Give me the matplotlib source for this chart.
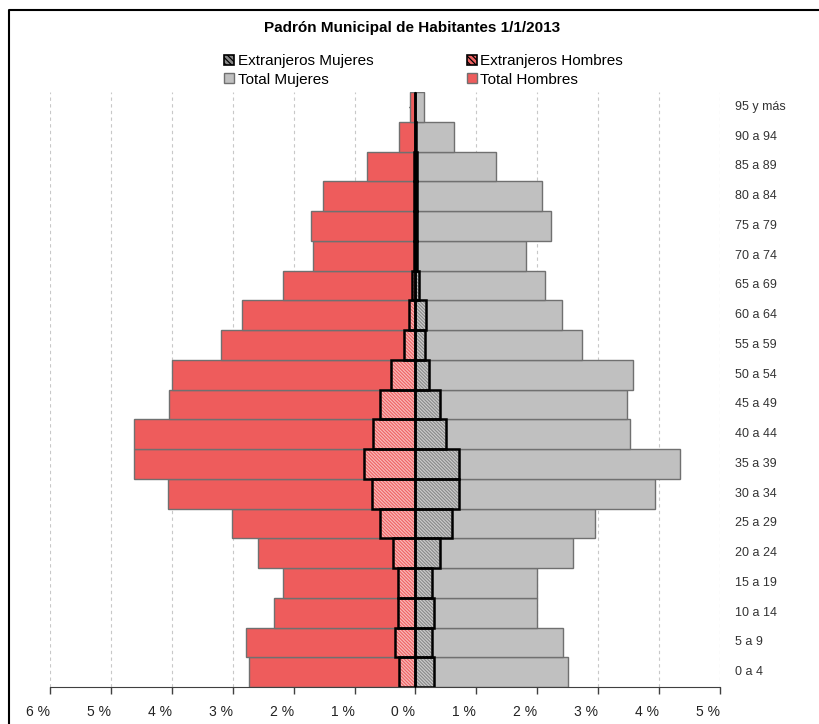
import matplotlib
matplotlib.use("Agg")
import matplotlib.pyplot as plt
from matplotlib.patches import Patch
from matplotlib.lines import Line2D

plt.rcParams['font.family'] = ['Liberation Sans', 'DejaVu Sans']
plt.rcParams['hatch.linewidth'] = 0.9

# Data (% of total population), from youngest to oldest
grupos = ["0 a 4", "5 a 9", "10 a 14", "15 a 19", "20 a 24", "25 a 29", "30 a 34",
          "35 a 39", "40 a 44", "45 a 49", "50 a 54", "55 a 59", "60 a 64", "65 a 69",
          "70 a 74", "75 a 79", "80 a 84", "85 a 89", "90 a 94", "95 y más"]
total_hombres = [2.74, 2.79, 2.33, 2.17, 2.58, 3.02, 4.06, 4.62, 4.62, 4.04,
                 4.00, 3.20, 2.84, 2.17, 1.69, 1.72, 1.52, 0.80, 0.27, 0.085]
total_mujeres = [2.50, 2.43, 2.00, 2.00, 2.59, 2.94, 3.93, 4.34, 3.52, 3.48,
                 3.57, 2.74, 2.41, 2.13, 1.82, 2.23, 2.08, 1.32, 0.63, 0.14]
ext_hombres = [0.27, 0.34, 0.28, 0.28, 0.37, 0.58, 0.72, 0.85, 0.69, 0.58,
               0.40, 0.19, 0.11, 0.06, 0.03, 0.02, 0.03, 0.02, 0.01, 0.0]
ext_mujeres = [0.30, 0.27, 0.30, 0.27, 0.41, 0.60, 0.71, 0.72, 0.50, 0.40,
               0.22, 0.16, 0.17, 0.06, 0.03, 0.02, 0.03, 0.02, 0.01, 0.0]
xticks = [-6, -5, -4, -3, -2, -1, 0, 1, 2, 3, 4, 5]

red = '#EE5C5C'
gray = '#C0C0C0'
ext_red = '#EE6262'
ext_gray = '#888888'
hatch = '\\' * 10

fig = plt.figure(figsize=(8.2, 7.24), dpi=100)
ax = fig.add_axes([50 / 820, 1 - 687 / 724, 670 / 820, 595 / 724])

y = list(range(len(grupos)))
neg = lambda v: [-x for x in v]

# totals
ax.barh(y, neg(total_hombres), height=1.0, color=red, edgecolor='#707070', linewidth=1, zorder=2)
ax.barh(y, total_mujeres, height=1.0, color=gray, edgecolor='#707070', linewidth=1, zorder=2)

# foreigners: hatched fill, then black outline
ax.barh(y, neg(ext_hombres), height=1.0, color=ext_red, edgecolor='#F9B8B8', hatch=hatch,
        linewidth=0, zorder=3)
ax.barh(y, ext_mujeres, height=1.0, color=ext_gray, edgecolor='#CACACA', hatch=hatch,
        linewidth=0, zorder=3)
ax.barh(y, neg(ext_hombres), height=1.0, fill=False, edgecolor='black', linewidth=1.8, zorder=4)
ax.barh(y, ext_mujeres, height=1.0, fill=False, edgecolor='black', linewidth=1.8, zorder=4)

ax.set_xlim(-6, 5)
ax.set_ylim(-0.5, len(grupos) - 0.5)
ax.set_xticks(xticks)
ax.set_xticklabels([f'{abs(v)} %' for v in xticks], fontsize=10, color='#222222', ha='right')
ax.tick_params(axis='x', direction='out', length=5, width=1, color='#404040', pad=8)

ax.grid(axis='x', color='#C8C8C8', linestyle=(0, (3, 3)), linewidth=0.8, zorder=0)
ax.set_axisbelow(True)

# y axis sits at zero, labels at the right
ax.spines['left'].set_position(('data', 0))
ax.spines['left'].set_color('black')
ax.spines['left'].set_zorder(5)
ax.spines['right'].set_visible(False)
ax.spines['top'].set_visible(False)
ax.spines['bottom'].set_color('#404040')
ax.set_yticks(y)
ax.tick_params(axis='y', direction='out', length=4, width=1, labelleft=False)
for yi, g in zip(y, grupos):
    ax.text(1.022, yi, g, transform=ax.get_yaxis_transform(), ha='left', va='center',
            fontsize=9, color='#333333')

fig.text(412 / 820, 1 - 28 / 724, 'Padrón Municipal de Habitantes 1/1/2013',
         ha='center', va='center', fontsize=11, fontweight='bold')

handles = [
    Patch(facecolor=ext_gray, edgecolor='black', hatch='\\\\\\\\\\\\', linewidth=1.2, label='Extranjeros Mujeres'),
    Patch(facecolor=gray, edgecolor='#707070', label='Total Mujeres'),
    Patch(facecolor=ext_red, edgecolor='black', hatch='\\\\\\\\\\\\', linewidth=1.2, label='Extranjeros Hombres'),
    Patch(facecolor=red, edgecolor='#707070', label='Total Hombres'),
]
fig.legend(handles=handles, loc='upper left', bbox_to_anchor=(224 / 820, 1 - 54 / 724),
           ncol=2, frameon=False, fontsize=11, handlelength=0.65, handleheight=0.65,
           handletextpad=0.25, columnspacing=6.1, labelspacing=0.3, borderpad=0,
           borderaxespad=0)

# chart border (cropped on right/bottom)
fig.add_artist(Line2D([9 / 820, 9 / 820, 1], [0, 1 - 10 / 724, 1 - 10 / 724],
                      transform=fig.transFigure, color='black', linewidth=1.5))

fig.savefig('out.png', dpi=100)
